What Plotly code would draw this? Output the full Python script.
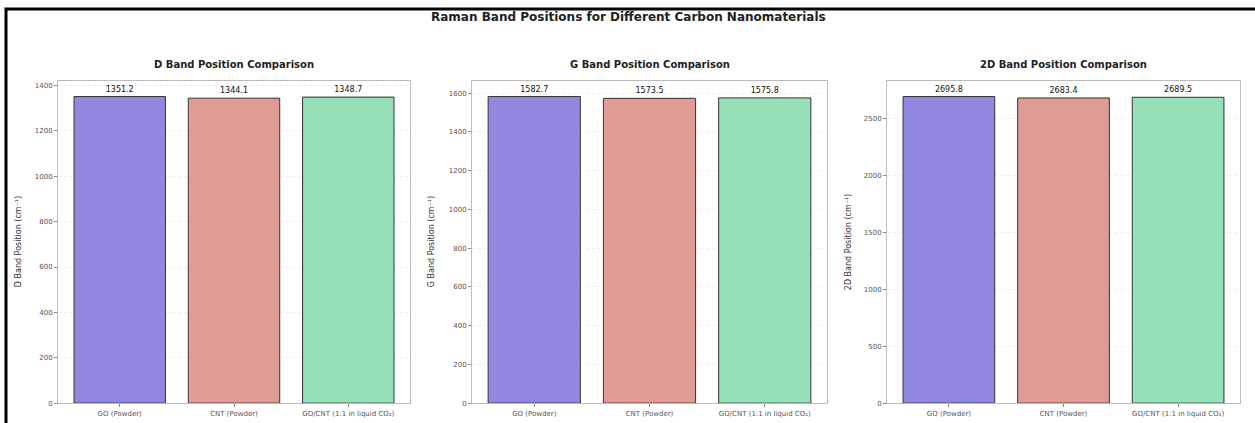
import plotly.graph_objects as go

categories = ["GO (Powder)", "CNT (Powder)", "GO/CNT (1:1 in liquid CO₂)"]
d_band = [1351.2, 1344.1, 1348.7]
g_band = [1582.7, 1573.5, 1575.8]
band_2d = [2695.8, 2683.4, 2689.5]
d_ticks = [0, 200, 400, 600, 800, 1000, 1200, 1400]
g_ticks = [0, 200, 400, 600, 800, 1000, 1200, 1400, 1600]
t2d_ticks = [0, 500, 1000, 1500, 2000, 2500]

bar_colors = ["#9088e0", "#e09b94", "#95e0b6"]

W, H = 1255, 423
panels = [
    ("D Band Position Comparison", "D Band Position (cm⁻¹)", d_band, d_ticks, 58, 410, 18),
    ("G Band Position Comparison", "G Band Position (cm⁻¹)", g_band, g_ticks, 472, 827, 431),
    ("2D Band Position Comparison", "2D Band Position (cm⁻¹)", band_2d, t2d_ticks, 887, 1240, 848),
]
top_px, bot_px = 82, 407
y0 = 1 - bot_px / H
y1 = 1 - top_px / H

fig = go.Figure()
annotations = []
font = "DejaVu Sans, Liberation Sans, sans-serif"

for i, (title, ytitle, vals, ticks, xl, xr, ytx) in enumerate(panels):
    n = "" if i == 0 else str(i + 1)
    fig.add_trace(go.Bar(
        x=list(range(len(categories))), y=vals,
        marker=dict(color=bar_colors, line=dict(color="#333333", width=1)),
        width=0.8,
        text=[f"{v:.1f}" for v in vals], textposition="outside",
        textfont=dict(size=8, color="#111111", family=font),
        cliponaxis=False,
        xaxis="x" + n, yaxis="y" + n, showlegend=False,
    ))
    dom = [xl / W, xr / W]
    fig.update_layout(**{
        "xaxis" + n: dict(
            domain=dom, anchor="y" + n, range=[-0.54, 2.54],
            tickmode="array", tickvals=list(range(len(categories))), ticktext=categories,
            tickfont=dict(size=7, color="#555555", family=font),
            showgrid=False, showline=True, linecolor="#bbbbbb", linewidth=1, mirror=True,
            ticks="outside", ticklen=3, tickcolor="#888888", zeroline=False,
        ),
        "yaxis" + n: dict(
            domain=[y0, y1], anchor="x" + n, range=[0, max(vals) * 1.05],
            tickmode="array", tickvals=ticks,
            tickfont=dict(size=7, color="#555555", family=font),
            showgrid=True, gridcolor="#eeeeee", griddash="dot", gridwidth=1,
            showline=True, linecolor="#bbbbbb", linewidth=1, mirror=True,
            ticks="outside", ticklen=3, tickcolor="#888888", zeroline=False,
        ),
    })
    annotations.append(dict(
        text=f"<b>{title}</b>", x=(dom[0] + dom[1]) / 2, y=1 - 65 / H,
        xref="paper", yref="paper", showarrow=False,
        font=dict(size=10, color="#222222", family=font), xanchor="center", yanchor="middle",
    ))
    annotations.append(dict(
        text=ytitle, x=ytx / W, y=(y0 + y1) / 2, textangle=-90,
        xref="paper", yref="paper", showarrow=False,
        font=dict(size=8, color="#333333", family=font), xanchor="center", yanchor="middle",
    ))

annotations.append(dict(
    text="<b>Raman Band Positions for Different Carbon Nanomaterials</b>",
    x=628 / W, y=1 - 17 / H, xref="paper", yref="paper", showarrow=False,
    font=dict(size=12, color="#222222", family=font), xanchor="center", yanchor="middle",
))

fig.update_layout(
    width=W, height=H,
    margin=dict(l=0, r=0, t=0, b=0),
    paper_bgcolor="white", plot_bgcolor="white",
    annotations=annotations,
    shapes=[dict(type="rect", xref="paper", yref="paper",
                 x0=6 / W, x1=1.01, y0=-0.05, y1=1 - 9 / H,
                 line=dict(color="black", width=3), layer="above")],
    bargap=0.2,
)

fig.write_html("out.html", config={"displayModeBar": False},
               post_script="document.body.style.margin='0';document.body.style.overflow='hidden';")
